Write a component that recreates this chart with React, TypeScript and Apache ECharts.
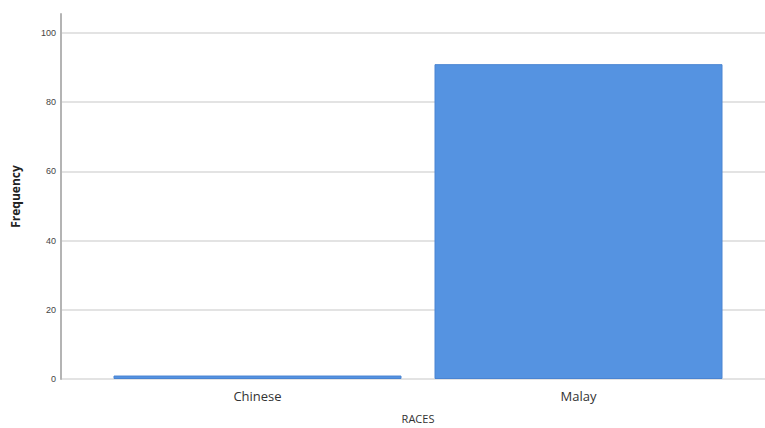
import React, { useEffect, useRef } from "react";
import * as echarts from "echarts";

const categories = ["Chinese", "Malay"];
const frequencies = [1, 91];
const yTicks = [0, 20, 40, 60, 80, 100];

export default function App() {
  const ref = useRef<HTMLDivElement>(null);
  useEffect(() => {
    if (!ref.current) return;
    const chart = echarts.init(ref.current, null, { renderer: "svg" });
    const yMax = 105.5;
    chart.setOption({
      animation: false,
      backgroundColor: "#ffffff",
      grid: [
        { left: 61, right: 0, top: 14, bottom: 49, outerBoundsMode: "none", containLabel: false },
        { left: 97, right: 26, top: 14, bottom: 49, outerBoundsMode: "none", containLabel: false },
      ],
      xAxis: [
        { type: "value", gridIndex: 0, show: false, min: 0, max: 1 },
        {
          type: "category",
          gridIndex: 1,
          data: categories,
          name: "RACES",
          nameLocation: "middle",
          nameGap: 34,
          nameTextStyle: { fontSize: 11, color: "#333", fontFamily: "Open Sans" },
          axisLine: { show: false },
          axisTick: { show: false },
          axisLabel: { fontSize: 13, color: "#333", margin: 10, fontFamily: "Open Sans" },
        },
      ],
      yAxis: [
        {
          type: "value",
          gridIndex: 0,
          min: 0,
          max: yMax,
          interval: 20,
          name: "Frequency",
          nameLocation: "middle",
          nameRotate: 90,
          nameGap: 40,
          nameTextStyle: { fontSize: 12, color: "#222", fontWeight: "bold", fontFamily: "Open Sans" },
          axisLine: { show: true, lineStyle: { color: "#b4b4b4", width: 2 } },
          axisTick: { show: false },
          axisLabel: {
            fontSize: 9,
            color: "#444",
            margin: 5,
            showMaxLabel: false,
            formatter: (v: number) => (yTicks.includes(v) ? String(v) : ""),
          },
          splitLine: { show: true, showMaxLine: false, lineStyle: { color: "#dadada", width: 1.5 } },
        },
        {
          type: "value",
          gridIndex: 1,
          min: 0,
          max: yMax,
          show: false,
          splitLine: { show: false },
        },
      ],
      series: [
        {
          type: "bar",
          xAxisIndex: 1,
          yAxisIndex: 1,
          data: frequencies,
          barWidth: 288,
          itemStyle: { color: "#5593e1", borderColor: "#4a84d2", borderWidth: 1 },
        },
      ],
    });
    return () => chart.dispose();
  }, []);
  return (
    <div
      ref={ref}
      style={{ position: "fixed", left: 0, top: 0, width: 765, height: 428 }}
    />
  );
}
